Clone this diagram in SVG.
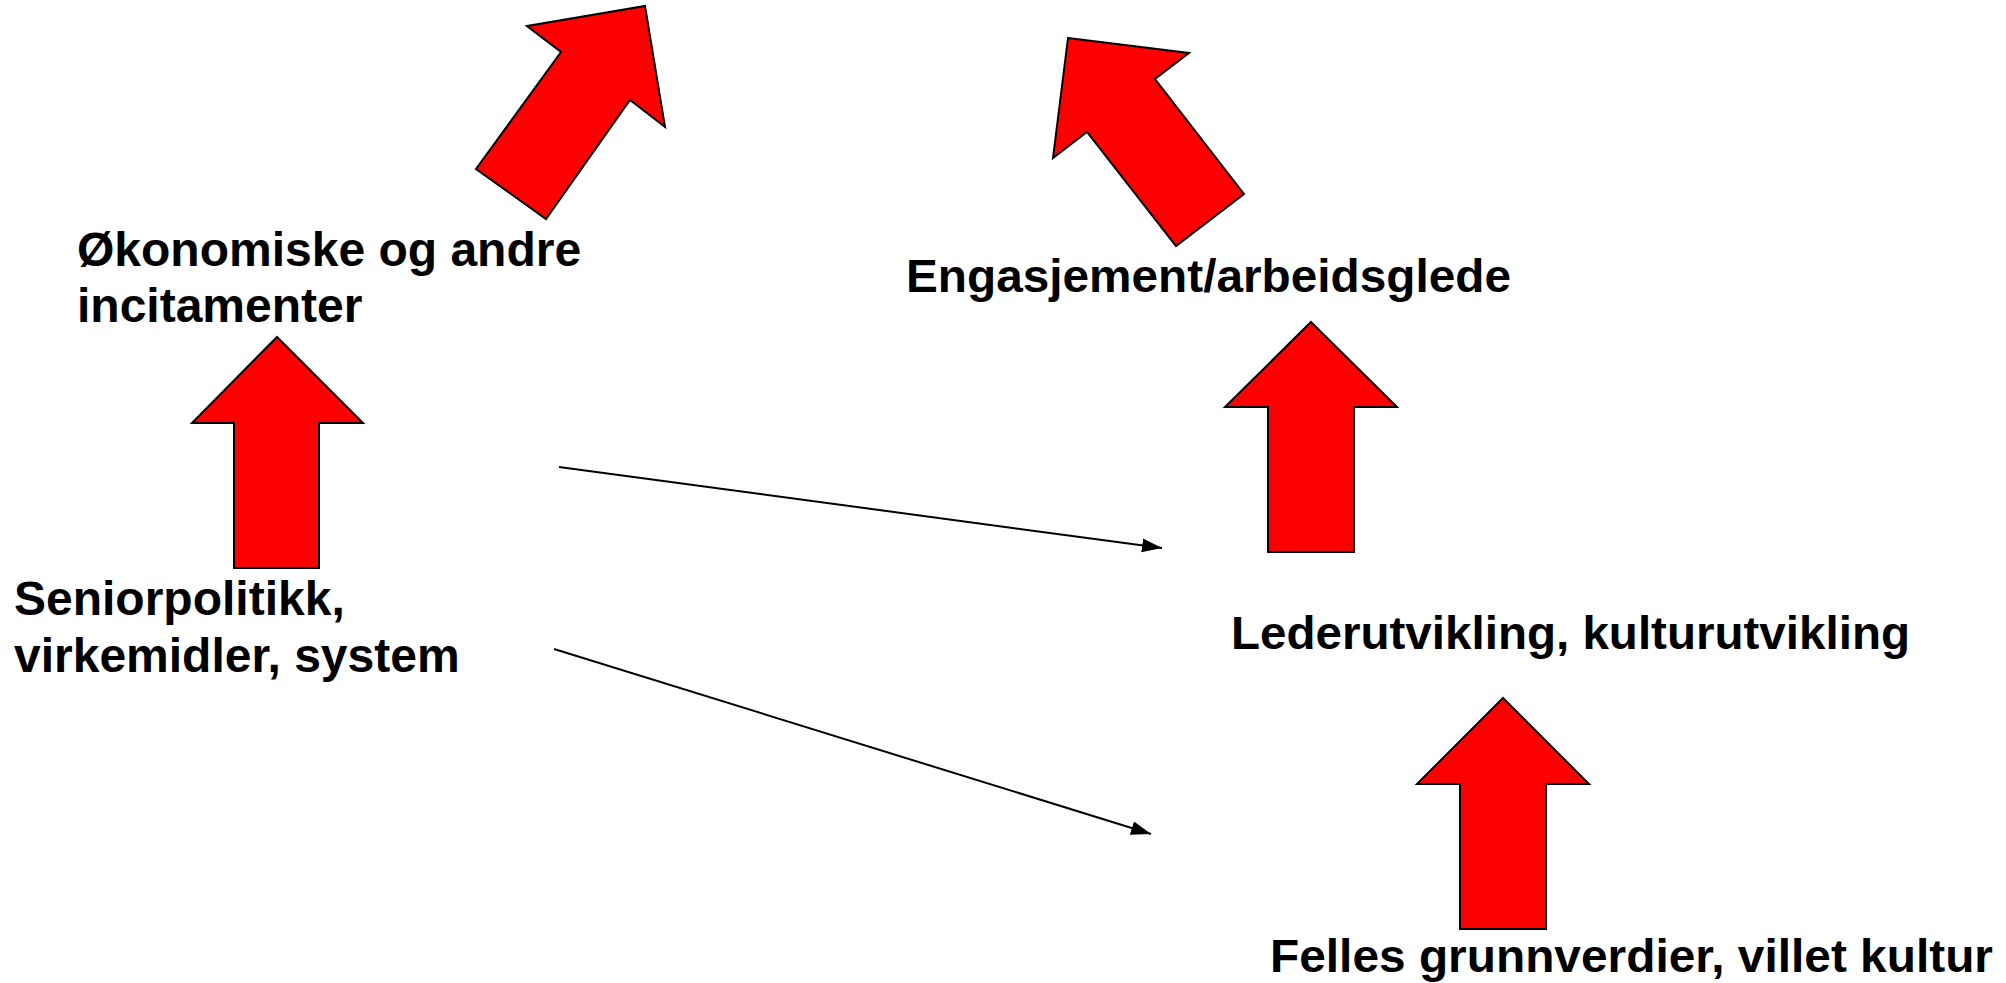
<svg xmlns="http://www.w3.org/2000/svg" width="2006" height="983" viewBox="0 0 2006 983">
<style>
.blk{fill:#FF0000;stroke:#000;stroke-width:2;stroke-linejoin:miter}
.lbl{font-family:"Liberation Sans",Arial,sans-serif;font-weight:bold;font-size:47px;fill:#000}
.lbl48{font-size:48px}
.con{stroke:#000;stroke-width:2;fill:none}
</style>
<defs>
<marker id="ah" markerUnits="userSpaceOnUse" markerWidth="22" markerHeight="16" refX="20" refY="7" orient="auto">
<path d="M0,0 L20,7 L0,14 z" fill="#000"/>
</marker>
</defs>
<rect width="2006" height="983" fill="#fff"/>
<g id="arrow-okonomiske">
<polygon class="blk" points="527,26 645,6 665,127 630,100 546,219 476,169 561,52"/>
</g>
<g id="arrow-engasjement">
<polygon class="blk" points="1068,38 1189,53 1155,79 1244,194 1176,246 1087,132 1053,158"/>
</g>
<g id="arrow-senior">
<polygon class="blk" points="277,337 363,423 319,423 319,568 234,568 234,423 192,423"/>
</g>
<g id="arrow-leder">
<polygon class="blk" points="1311,322 1397,407 1354,407 1354,552 1268,552 1268,407 1225,407"/>
</g>
<g id="arrow-felles">
<polygon class="blk" points="1503,698 1589,784 1546,784 1546,929 1460,929 1460,784 1417,784"/>
</g>
<g id="node-okonomiske">
<text class="lbl lbl48" x="77" y="266">Økonomiske og andre</text>
<text class="lbl lbl48" x="77" y="322">incitamenter</text>
</g>
<g id="node-engasjement">
<text class="lbl" x="906" y="292" textLength="605" lengthAdjust="spacingAndGlyphs">Engasjement/arbeidsglede</text>
</g>
<g id="node-senior">
<text class="lbl lbl48" x="14" y="615">Seniorpolitikk,</text>
<text class="lbl lbl48" x="14" y="672">virkemidler, system</text>
</g>
<g id="node-leder">
<text class="lbl" x="1231" y="649" textLength="679" lengthAdjust="spacingAndGlyphs">Lederutvikling, kulturutvikling</text>
</g>
<g id="node-felles">
<text class="lbl" x="1270" y="972" textLength="723" lengthAdjust="spacingAndGlyphs">Felles grunnverdier, villet kultur</text>
</g>
<g id="connectors">
<line class="con" x1="559" y1="467" x2="1162" y2="548" marker-end="url(#ah)"/>
<line class="con" x1="554" y1="649" x2="1151" y2="834" marker-end="url(#ah)"/>
</g>
</svg>
